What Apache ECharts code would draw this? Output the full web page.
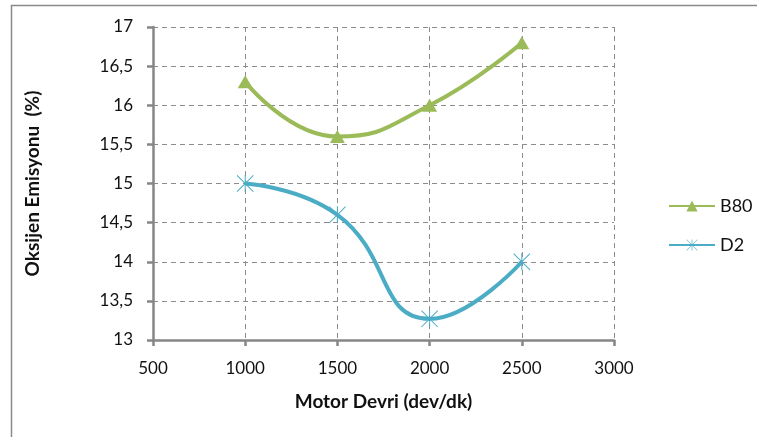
<!DOCTYPE html>
<html>
<head>
<meta charset="utf-8">
<script src="https://cdn.jsdelivr.net/npm/echarts@6/dist/echarts.min.js"></script>
<style>
html,body{margin:0;padding:0;background:#fff;}
#c{width:757px;height:437px;}
</style>
</head>
<body>
<div id="c"></div>
<script>
var xValues = [1000, 1500, 2000, 2500];
var b80 = [16.3, 15.6, 16.0, 16.8];
var d2 = [15.0, 14.6, 13.27, 14.0];
var seriesNames = ['B80', 'D2'];

var asterisk = 'path://M9.4 0 L10.6 0 L10.6 20 L9.4 20 Z M0 0.8 L0.8 0 L20 19.2 L19.2 20 Z M0 19.2 L19.2 0 L20 0.8 L0.8 20 Z';

function pairs(xs, ys){ return xs.map(function(x,i){ return [x, ys[i]]; }); }

var chart = echarts.init(document.getElementById('c'), null, {renderer:'canvas'});
var gridColor = '#8c8c8c';
chart.setOption({
  backgroundColor: '#fff',
  animation: false,
  textStyle: {fontFamily: 'Lato'},
  graphic: [{
    type: 'rect', left: 9, top: 3,
    shape: {x: 0, y: 0, width: 760, height: 450},
    style: {fill: 'none', stroke: '#8a8a8a', lineWidth: 1.5},
    silent: true, z: -10
  }],
  grid: {left: 153, right: 143, top: 27, bottom: 97},
  legend: {
    orient: 'vertical', left: 663, top: 192, itemGap: 21,
    itemWidth: 46, itemHeight: 14,
    textStyle: {fontFamily: 'Lato', fontSize: 18, color: '#111'},
    data: seriesNames
  },
  xAxis: {
    type: 'value', min: 500, max: 3000, interval: 500,
    name: 'Motor Devri (dev/dk)', nameLocation: 'middle', nameGap: 52,
    nameTextStyle: {fontFamily: 'Lato', fontWeight: 'bold', fontSize: 19, color: '#111'},
    axisLine: {lineStyle: {color: '#868686', width: 2.5}},
    axisTick: {show: true, inside: false, length: 6, lineStyle: {color: '#868686', width: 2.5}},
    axisLabel: {fontFamily: 'Lato', fontSize: 17, color: '#111', margin: 20,
      formatter: function(v){ return String(v); }},
    splitLine: {show: true, lineStyle: {color: gridColor, type: [5, 4], width: 1}}
  },
  yAxis: {
    type: 'value', min: 13, max: 17, interval: 0.5,
    name: 'Oksijen Emisyonu  (%)', nameLocation: 'middle', nameGap: 111, nameRotate: 90,
    nameTextStyle: {fontFamily: 'Lato', fontWeight: 'bold', fontSize: 19, color: '#111'},
    axisLine: {show: true, lineStyle: {color: '#868686', width: 2.5}},
    axisTick: {show: true, inside: false, length: 6, lineStyle: {color: '#868686', width: 2.5}},
    axisLabel: {fontFamily: 'Lato', fontSize: 17, color: '#111', margin: 20,
      formatter: function(v){ return String(v).replace('.', ','); }},
    splitLine: {show: true, lineStyle: {color: gridColor, type: [5, 4], width: 1}}
  },
  series: [{
    name: seriesNames[0], type: 'line', smooth: 0.5,
    data: pairs(xValues, b80),
    symbol: 'triangle', symbolSize: [15, 13],
    lineStyle: {color: '#9BBB59', width: 4},
    itemStyle: {color: '#9BBB59'}
  }, {
    name: seriesNames[1], type: 'line', smooth: 0.5,
    data: pairs(xValues, d2),
    symbol: asterisk, symbolSize: 17,
    lineStyle: {color: '#4BACC6', width: 4},
    itemStyle: {color: '#4BACC6'}
  }]
});
</script>
</body>
</html>
